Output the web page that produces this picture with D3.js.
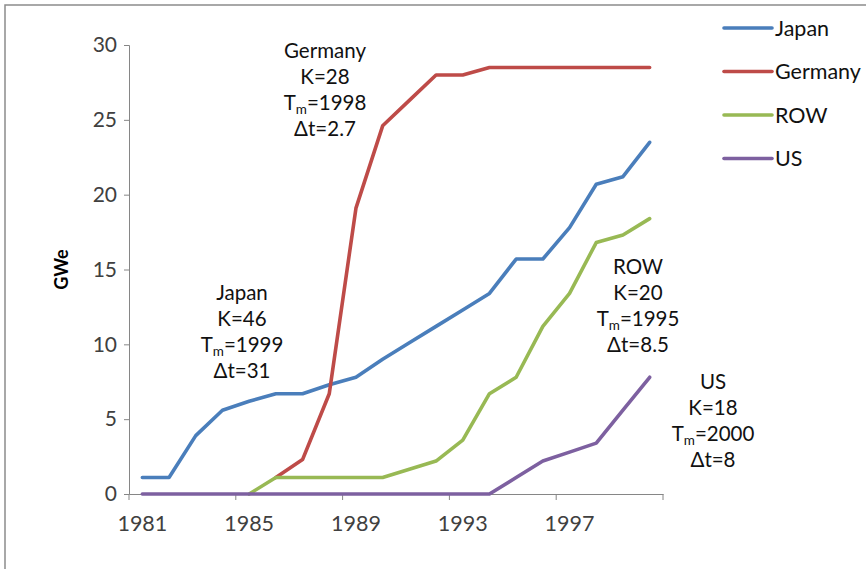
<!DOCTYPE html>
<html><head><meta charset="utf-8">
<script src="https://cdn.jsdelivr.net/npm/d3@7"></script>
<style>
html,body{margin:0;padding:0;background:#fff;}
svg{display:block;font-family:Lato,"Open Sans",sans-serif;}
</style></head>
<body>
<svg id="c" width="866" height="569"></svg>
<script>
const years = d3.range(1981, 2001);
const tickLabelYears = [1981, 1985, 1989, 1993, 1997];
const yTicks = [0, 5, 10, 15, 20, 25, 30];
const seriesNames = ["Japan", "Germany", "ROW", "US"];
const japan   = [1.1, 1.1, 3.9, 5.6, 6.2, 6.7, 6.7, 7.3, 7.8, 9.0, 10.1, 11.2, 12.3, 13.4, 15.7, 15.7, 17.8, 20.7, 21.2, 23.5];
const germany = [0, 0, 0, 0, 0, 1.1, 2.3, 6.7, 19.1, 24.6, 26.3, 28.0, 28.0, 28.5, 28.5, 28.5, 28.5, 28.5, 28.5, 28.5];
const row     = [0, 0, 0, 0, 0, 1.1, 1.1, 1.1, 1.1, 1.1, 1.65, 2.2, 3.6, 6.7, 7.8, 11.2, 13.4, 16.8, 17.3, 18.4];
const us      = [0, 0, 0, 0, 0, 0, 0, 0, 0, 0, 0, 0, 0, 0, 1.1, 2.2, 2.8, 3.4, 5.6, 7.8];
const seriesValues = [japan, germany, row, us];
const colors = ["#4A7EBB", "#BE4B48", "#98B954", "#7D60A0"];
const startIdx = [0, 5, 4, 0];
const annotations = [
  {name:"Germany", K:"28", Tm:"1998", dt:"2.7"},
  {name:"Japan", K:"46", Tm:"1999", dt:"31"},
  {name:"ROW", K:"20", Tm:"1995", dt:"8.5"},
  {name:"US", K:"18", Tm:"2000", dt:"8"}
];
const annPos = [[325, 58], [242, 300], [638, 274], [713, 389]];

const svg = d3.select("#c");
const mLeft = 129, mRight = 663, mTop = 45, mBottom = 494;
const x = d3.scaleBand().domain(years).range([mLeft, mRight]).paddingInner(0).paddingOuter(0);
const y = d3.scaleLinear().domain([0, 30]).range([mBottom, mTop]);
const cx = d => x(d) + x.bandwidth() / 2;

svg.append("path").attr("d", "M5,569 L5,5 L866,5").attr("fill","none").attr("stroke","#8c8c8c").attr("stroke-width",1.5);

const axisColor = "#868686";
const textColor = "#404040";
const fontFam = "Lato,'Open Sans',sans-serif";

const yAxis = svg.append("g").attr("transform", `translate(${mLeft},0)`)
  .call(d3.axisLeft(y).tickValues(yTicks).tickSize(5).tickPadding(7));
yAxis.select(".domain").attr("stroke", axisColor);
yAxis.selectAll(".tick line").attr("stroke", axisColor);
yAxis.selectAll(".tick text").attr("fill", textColor).style("font-size","21px").style("font-family",fontFam);

const xAxis = svg.append("g").attr("transform", `translate(0,${mBottom})`)
  .call(d3.axisBottom(x).tickValues(tickLabelYears).tickSize(0).tickPadding(22));
xAxis.select(".domain").attr("stroke", axisColor);
xAxis.selectAll(".tick text").attr("fill", textColor).style("font-size","21.5px").style("font-family",fontFam);
const boundaryTicks = tickLabelYears.map(v => x(v)).concat([mRight]);
svg.append("g").selectAll("line").data(boundaryTicks).join("line")
  .attr("x1", d => d).attr("x2", d => d).attr("y1", mBottom).attr("y2", mBottom + 6)
  .attr("stroke", axisColor);

svg.append("text").attr("transform", `translate(68,${(mTop+mBottom)/2}) rotate(-90)`)
  .attr("text-anchor","middle").attr("font-weight","bold").attr("font-size","18px").attr("fill","#000")
  .text("GWe");

const line = d3.line().x(d => cx(d.year)).y(d => y(d.v));
seriesValues.forEach((vals, si) => {
  const pts = years.map((yr, i) => ({year: yr, v: vals[i]})).slice(startIdx[si]);
  svg.append("path").attr("d", line(pts)).attr("fill","none").attr("stroke", colors[si])
    .attr("stroke-width", 3.6).attr("stroke-linejoin","round").attr("stroke-linecap","round");
});

annotations.forEach((a, i) => {
  const [ax, ay] = annPos[i];
  const g = svg.append("g").attr("font-size","20.5px").attr("fill","#111").attr("text-anchor","middle");
  g.append("text").attr("x", ax).attr("y", ay).text(a.name);
  g.append("text").attr("x", ax).attr("y", ay + 26).text("K=" + a.K);
  const t = g.append("text").attr("x", ax).attr("y", ay + 52);
  t.append("tspan").text("T");
  t.append("tspan").attr("font-size","13.5px").attr("dy", 4).text("m");
  t.append("tspan").attr("dy", -4).text("=" + a.Tm);
  g.append("text").attr("x", ax).attr("y", ay + 78).text("\u0394t=" + a.dt);
});

const legend = svg.append("g");
seriesNames.forEach((n, i) => {
  const ly = 28 + i * 43.5;
  legend.append("line").attr("x1", 724).attr("x2", 772).attr("y1", ly).attr("y2", ly)
    .attr("stroke", colors[i]).attr("stroke-width", 3.6).attr("stroke-linecap","round");
  legend.append("text").attr("x", 775).attr("y", ly + 7.5).attr("font-size","21.5px").attr("fill","#111").text(n);
});
</script>
</body></html>
